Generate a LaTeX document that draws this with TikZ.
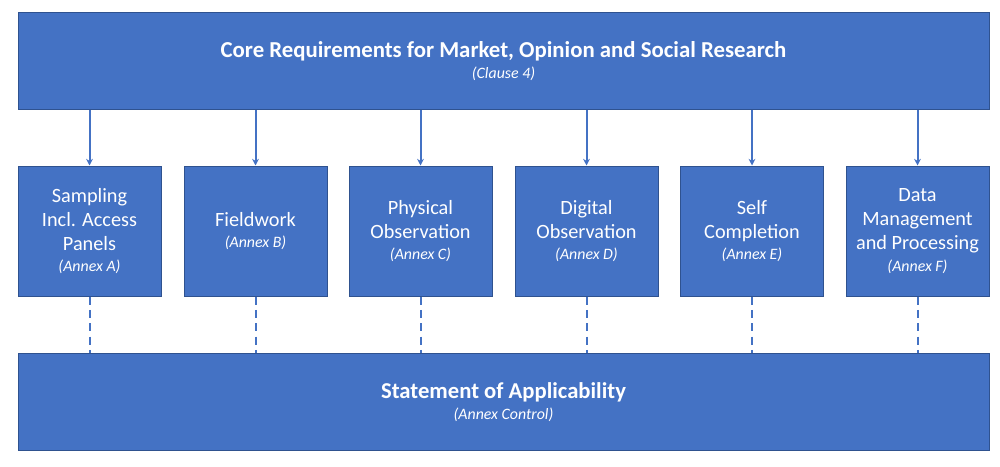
\documentclass[tikz,border=0pt]{standalone}
\usepackage{fontspec}
\setmainfont{Carlito}
\usetikzlibrary{arrows.meta}
\definecolor{boxblue}{HTML}{4472C4}
\definecolor{boxedge}{HTML}{2F528F}
\begin{document}
\begin{tikzpicture}[x=0.75pt,y=-0.75pt,
  bigbox/.style={draw=boxedge,line width=0.75pt,fill=boxblue,text=white,
    minimum width=728.25pt,minimum height=72.75pt,inner sep=0pt,align=center},
  smallbox/.style={draw=boxedge,line width=0.75pt,fill=boxblue,text=white,
    minimum width=107.25pt,minimum height=97.5pt,inner sep=0pt,align=center,
    font=\fontsize{15.2}{18}\selectfont},
  down/.style={draw=boxblue,line width=1.5pt,-{Stealth[length=5pt,width=5pt]}},
  dashlink/.style={draw=boxblue,line width=1.5pt,dash pattern=on 6pt off 4pt}
]
\useasboundingbox (0,0) rectangle (1000,467);
\newcommand{\annex}[1]{{\fontsize{11.9}{14}\selectfont\itshape #1}}
\node[bigbox] (core) at (503.5,61) {{\fontsize{17.1}{22}\selectfont\bfseries Core Requirements for Market, Opinion and Social Research}\\[3.5pt]\annex{(Clause 4)}};
\node[bigbox] (soa) at (503.5,402) {{\fontsize{17}{22}\selectfont\bfseries Statement of Applicability}\\[3.5pt]\annex{(Annex Control)}};
\node[smallbox] (a) at (89.5,231) {Sampling\\Incl. Access\\Panels\\[-2pt]\annex{(Annex A)}};
\node[smallbox] (b) at (255.5,231) {Fieldwork\\[-2pt]\annex{(Annex B)}};
\node[smallbox] (c) at (420.5,231) {Physical\\Observation\\[-2pt]\annex{(Annex C)}};
\node[smallbox] (d) at (586.5,231) {Digital\\Observation\\[-2pt]\annex{(Annex D)}};
\node[smallbox] (e) at (752,231) {Self\\Completion\\[-2pt]\annex{(Annex E)}};
\node[smallbox] (f) at (917.5,231) {Data\\Management\\and Processing\\[-2pt]\annex{(Annex F)}};
\foreach \n in {a,b,c,d,e,f}{
  \draw[down] (core.south -| \n.north) -- (\n.north);
  \draw[dashlink] (\n.south) -- (soa.north -| \n.south);
}
\end{tikzpicture}
\end{document}
